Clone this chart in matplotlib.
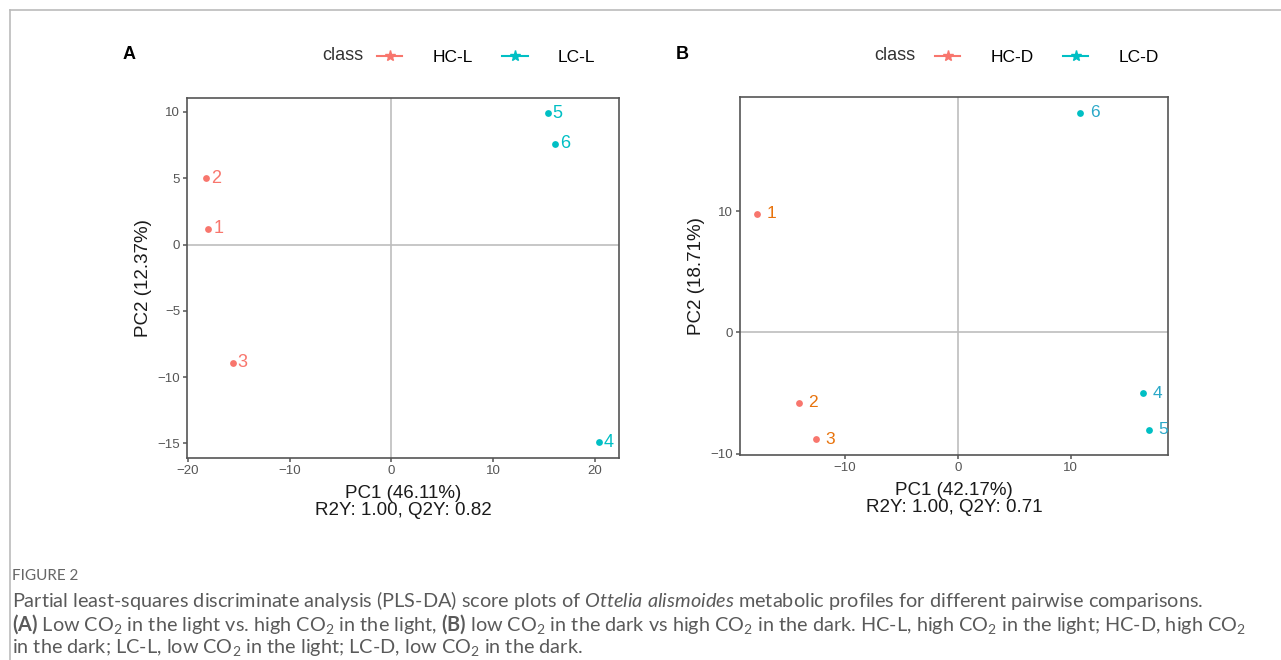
import matplotlib.pyplot as plt
from matplotlib.lines import Line2D

plt.rcParams['font.family'] = ['Liberation Sans', 'DejaVu Sans']
plt.rcParams['mathtext.fontset'] = 'custom'
plt.rcParams['mathtext.rm'] = 'Lato'
plt.rcParams['mathtext.it'] = 'Lato:italic'
plt.rcParams['mathtext.bf'] = 'Lato:bold'

# Panel A: light, HC-L vs LC-L
a_names = ['1', '2', '3', '4', '5', '6']
a_class = ['HC-L', 'HC-L', 'HC-L', 'LC-L', 'LC-L', 'LC-L']
a_pc1 = [-18.0, -18.2, -15.6, 20.4, 15.4, 16.1]
a_pc2 = [1.2, 5.0, -8.9, -14.9, 9.9, 7.6]

# Panel B: dark, HC-D vs LC-D
b_names = ['1', '2', '3', '4', '5', '6']
b_class = ['HC-D', 'HC-D', 'HC-D', 'LC-D', 'LC-D', 'LC-D']
b_pc1 = [-17.8, -14.1, -12.6, 16.4, 16.9, 10.8]
b_pc2 = [9.8, -5.8, -8.8, -5.0, -8.0, 18.1]

red = '#F8766D'
cyan = '#00BFC4'

W, H = 1281, 660
fig = plt.figure(figsize=(W / 100, H / 100), dpi=100)


def box(l, t, r, b):
    return [l / W, 1 - b / H, (r - l) / W, (b - t) / H]


def panel(rect, x, y, names, cls, hc, xlab, ylab, xlim, ylim, xticks, yticks,
          txtcols, dx, lsize, letter, lx, classx, legx):
    ax = fig.add_axes(box(*rect))
    ax.axhline(0, color='#BDBDBD', lw=1.2, zorder=0)
    ax.axvline(0, color='#BDBDBD', lw=1.2, zorder=0)
    for xi, yi, n, c in zip(x, y, names, cls):
        col = red if c == hc else cyan
        ax.scatter(xi, yi, s=24, color=col, zorder=3, linewidths=0)
        tc = txtcols[0] if c == hc else txtcols[1]
        ax.annotate(n, (xi, yi), xytext=(dx, 0), textcoords='offset points',
                    va='center', ha='left', color=tc, fontsize=lsize,
                    annotation_clip=False, clip_on=True)
    ax.set_xlim(*xlim)
    ax.set_ylim(*ylim)
    ax.set_xticks(xticks)
    ax.set_yticks(yticks)
    ax.set_xticklabels([str(t).replace('-', '\u2212') for t in xticks])
    ax.set_yticklabels([str(t).replace('-', '\u2212') for t in yticks])
    for s in ax.spines.values():
        s.set_color('#555555')
        s.set_linewidth(1.2)
    ax.tick_params(colors='#555555', labelcolor='#555555', labelsize=9.5,
                   length=3, width=1.1, pad=2)
    ax.set_xlabel(xlab, fontsize=13.5, color='#1A1A1A', labelpad=6, linespacing=1.0)
    ax.set_ylabel(ylab, fontsize=13.5, color='#1A1A1A', labelpad=4)
    fig.text(lx / W, 1 - 59 / H, letter, fontsize=13, fontweight='bold',
             ha='left', va='baseline')
    fig.text(classx / W, 1 - 56 / H, 'class', fontsize=13, color='#333333',
             ha='left', va='center')
    hands = [Line2D([], [], color=red, marker='*', markersize=8, lw=1.5),
             Line2D([], [], color=cyan, marker='*', markersize=8, lw=1.5)]
    labs = sorted(set(cls))
    fig.legend(hands, labs, ncol=2, loc='center left',
               bbox_to_anchor=(legx / W, 1 - 57 / H), frameon=False,
               fontsize=12.5, handlelength=1.45, handletextpad=1.75,
               columnspacing=1.7, borderaxespad=0, borderpad=0)
    return ax


panel((187, 98, 619, 458), a_pc1, a_pc2, a_names, a_class, 'HC-L',
      'PC1 (46.11%)\nR2Y: 1.00, Q2Y: 0.82', 'PC2 (12.37%)',
      (-20.1, 22.4), (-16.1, 11.05), [-20, -10, 0, 10, 20], [-15, -10, -5, 0, 5, 10],
      (red, cyan), 3.5, 13, 'A', 123, 322, 377)

panel((740, 97, 1168, 455), b_pc1, b_pc2, b_names, b_class, 'HC-D',
      'PC1 (42.17%)\nR2Y: 1.00, Q2Y: 0.71', 'PC2 (18.71%)',
      (-19.3, 18.6), (-10.1, 19.4), [-10, 0, 10], [-10, 0, 10],
      ('#E8730C', '#2AA8C8'), 7, 12.5, 'B', 676, 874, 935)

# frame lines
fig.add_artist(Line2D([10 / W, 1], [1 - 10 / H, 1 - 10 / H], color='#BBBBBB', lw=1.2))
fig.add_artist(Line2D([10 / W, 10 / W], [0, 1 - 10 / H], color='#BBBBBB', lw=1.2))

cap = '#5A5A5A'
fs = 14.3
fig.text(12 / W, 1 - 576 / H, 'FIGURE 2', fontsize=11, color='#666666',
         family='Lato', va='center')
fig.text(12 / W, 1 - 601 / H,
         'Partial least-squares discriminate analysis (PLS-DA) score plots of '
         r'$\mathit{Ottelia\ alismoides}$ metabolic profiles for different pairwise comparisons.',
         fontsize=fs, color=cap, family='Lato', va='center')
fig.text(12 / W, 1 - 624 / H,
         r'$\mathbf{(A)}$ Low CO$_\mathrm{2}$ in the light vs. high CO$_\mathrm{2}$ in the light, '
         r'$\mathbf{(B)}$ low CO$_\mathrm{2}$ in the dark vs high CO$_\mathrm{2}$ in the dark. '
         r'HC-L, high CO$_\mathrm{2}$ in the light; HC-D, high CO$_\mathrm{2}$',
         fontsize=fs, color=cap, family='Lato', va='center')
fig.text(12 / W, 1 - 647 / H,
         r'in the dark; LC-L, low CO$_\mathrm{2}$ in the light; LC-D, low CO$_\mathrm{2}$ in the dark.',
         fontsize=fs, color=cap, family='Lato', va='center')

fig.savefig('out.png', dpi=100)
